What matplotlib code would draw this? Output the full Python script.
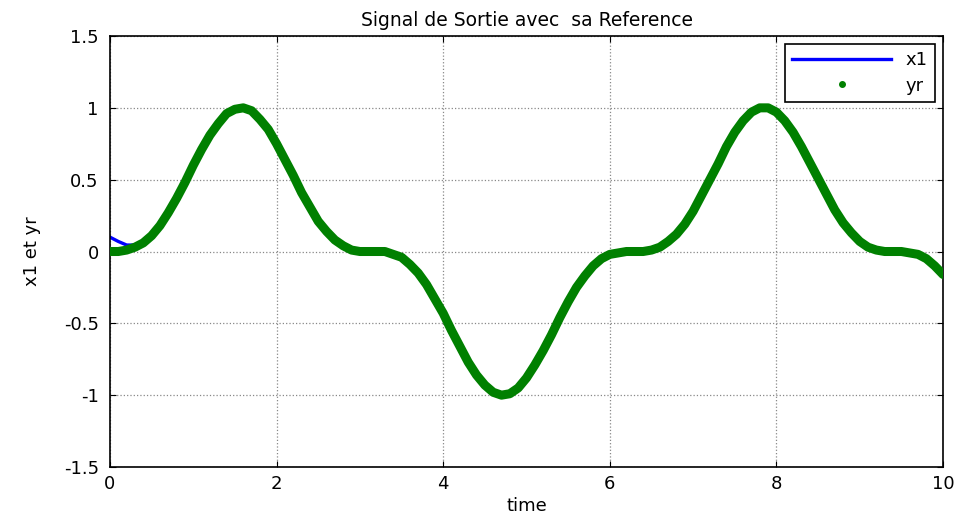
import numpy as np
import matplotlib
matplotlib.use('Agg')
import matplotlib.pyplot as plt

plt.rcParams['font.family'] = ['DejaVu Sans']

# values (step 0.1 in time)
t = np.round(np.arange(0, 101) * 0.1, 1)
yr = [0.00, 0.00, 0.01, 0.03, 0.06, 0.11, 0.18, 0.27, 0.37, 0.48,
      0.60, 0.71, 0.81, 0.89, 0.96, 0.99, 1.00, 0.98, 0.92, 0.85,
      0.75, 0.64, 0.53, 0.41, 0.31, 0.21, 0.14, 0.08, 0.04, 0.01,
      0.00, 0.00, 0.00, 0.00, -0.02, -0.04, -0.09, -0.15, -0.23, -0.33,
      -0.43, -0.55, -0.66, -0.77, -0.86, -0.93, -0.98, -1.00, -0.99, -0.95,
      -0.88, -0.79, -0.69, -0.58, -0.46, -0.35, -0.25, -0.17, -0.10, -0.05,
      -0.02, -0.01, 0.00, 0.00, 0.00, 0.01, 0.03, 0.07, 0.12, 0.19,
      0.28, 0.39, 0.50, 0.61, 0.73, 0.83, 0.91, 0.97, 1.00, 1.00,
      0.97, 0.91, 0.83, 0.73, 0.62, 0.51, 0.40, 0.29, 0.20, 0.13,
      0.07, 0.03, 0.01, 0.00, 0.00, 0.00, -0.01, -0.02, -0.05, -0.10,
      -0.16]

# x1 differs from yr only at the very start
x1_t = [0.0, 0.1, 0.2, 0.3, 0.4] + list(t[5:])
x1 = [0.10, 0.07, 0.045, 0.045, 0.065] + yr[5:]

fig = plt.figure(figsize=(9.62, 5.19), dpi=100)
ax = fig.add_axes([0.1143, 0.1002, 0.866, 0.8304])

ax.plot(x1_t, x1, color='blue', linewidth=2.4, label='x1', zorder=2)
ax.plot(t, yr, color='green', linewidth=6.5, solid_capstyle='round',
        solid_joinstyle='round', zorder=3)
# legend handle for the dotted reference
ax.plot([], [], linestyle='none', marker='.', color='green', markersize=8, label='yr')

ax.set_xlim(0, 10)
ax.set_ylim(-1.5, 1.5)
ax.set_xticks([0, 2, 4, 6, 8, 10])
ax.set_yticks([-1.5, -1, -0.5, 0, 0.5, 1, 1.5])
ax.set_yticklabels(['-1.5', '-1', '-0.5', '0', '0.5', '1', '1.5'])
ax.tick_params(labelsize=13, direction='in', length=4, top=True, right=True)
ax.tick_params(axis='x', pad=6)
ax.tick_params(axis='y', pad=8)
ax.grid(True, color='#888888', linestyle=':', linewidth=0.9)
ax.set_axisbelow(True)
for s in ax.spines.values():
    s.set_linewidth(1.2)

ax.set_title('Signal de Sortie avec  sa Reference', fontsize=13.5, pad=7)
ax.set_xlabel('time', fontsize=13, labelpad=3)
ax.set_ylabel('x1 et yr', fontsize=13, labelpad=16)

leg = ax.legend(loc='upper right', fontsize=13, frameon=True, fancybox=False,
                edgecolor='black', handlelength=5.5, borderaxespad=0.45,
                handletextpad=0.8, labelspacing=0.4)
leg.get_frame().set_linewidth(1.2)
leg.get_frame().set_alpha(1)

fig.savefig('out.png', dpi=100)
